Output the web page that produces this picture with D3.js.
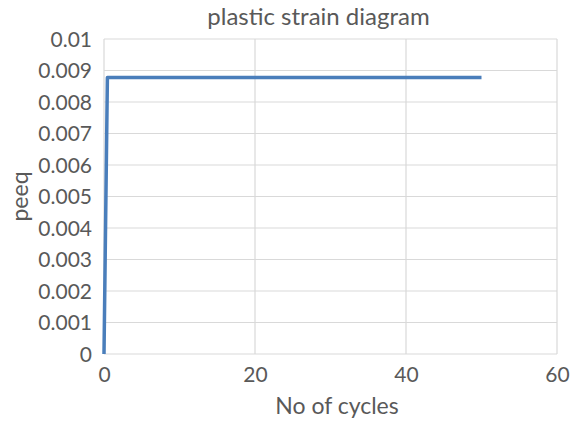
<!DOCTYPE html>
<html><head><meta charset="utf-8">
<script src="https://cdn.jsdelivr.net/npm/d3@7"></script>
<style>body{margin:0;background:#fff}text{font-family:Lato,"Open Sans",sans-serif;fill:#595959}</style>
</head><body><svg id="c" width="574" height="422"></svg>
<script>
const title = "plastic strain diagram";
const xLabel = "No of cycles";
const yLabel = "peeq";
const cycles = [0, 0.45, 50];
const peeq = [0, 0.00878, 0.00878];
const xTicks = [0, 20, 40, 60];
const yTicks = [0,0.001,0.002,0.003,0.004,0.005,0.006,0.007,0.008,0.009,0.01];

const svg = d3.select("#c");
const m = {l:104, r:557, t:39, b:354};
const x = d3.scaleLinear().domain([0,60]).range([m.l,m.r]);
const y = d3.scaleLinear().domain([0,0.01]).range([m.b,m.t]);

const g = svg.append("g");
g.selectAll(".hg").data(yTicks).enter().append("line")
  .attr("x1",m.l).attr("x2",m.r).attr("y1",d=>y(d)).attr("y2",d=>y(d))
  .attr("stroke","#d9d9d9").attr("stroke-width",1.2);
g.selectAll(".vg").data(xTicks).enter().append("line")
  .attr("y1",m.t).attr("y2",m.b).attr("x1",d=>x(d)).attr("x2",d=>x(d))
  .attr("stroke","#d9d9d9").attr("stroke-width",1.2);

const ya = d3.axisLeft(y).tickValues(yTicks).tickSize(0).tickPadding(12).tickFormat(d=>d===0?"0":String(+d.toFixed(3)));
const yg = svg.append("g").attr("transform",`translate(${m.l},0)`).call(ya);
yg.select(".domain").remove();
yg.selectAll("text").style("font-size","21px").attr("fill","#595959").attr("dy","0.34em");

const xa = d3.axisBottom(x).tickValues(xTicks).tickSize(0).tickPadding(13);
const xg = svg.append("g").attr("transform",`translate(0,${m.b})`).call(xa);
xg.select(".domain").remove();
xg.selectAll("text").style("font-size","21px").attr("fill","#595959");

const data = cycles.map((c,i)=>[c,peeq[i]]);
svg.append("path").datum(data)
  .attr("d", d3.line().x(d=>x(d[0])).y(d=>y(d[1])))
  .attr("fill","none").attr("stroke","#4a7ebb").attr("stroke-width",3.5).attr("stroke-linejoin","round");

svg.append("text").attr("x",318.5).attr("y",25).attr("text-anchor","middle").style("font-size","24px").text(title);
svg.append("text").attr("x",337).attr("y",414).attr("text-anchor","middle").style("font-size","23px").text(xLabel);
svg.append("text").attr("transform",`translate(28,${(m.t+m.b)/2}) rotate(-90)`).attr("text-anchor","middle").style("font-size","23px").text(yLabel);
</script></body></html>
